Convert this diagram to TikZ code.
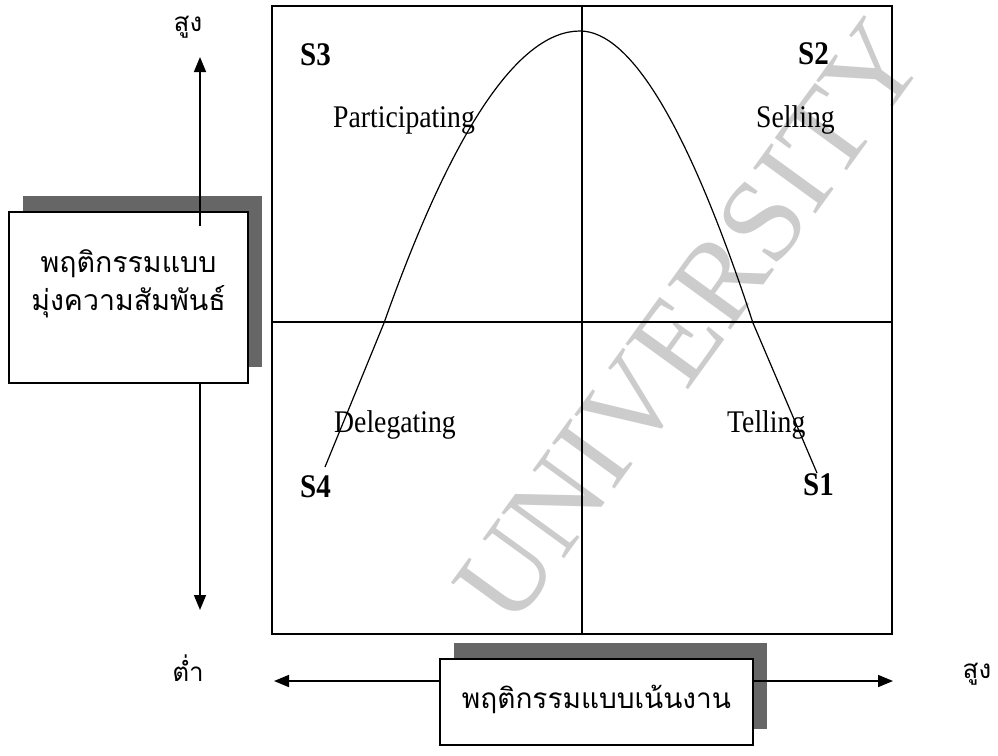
\documentclass[tikz,border=0pt]{standalone}
\usepackage{fontspec}
\setmainfont{Liberation Serif}
\newfontfamily\thaifont[Script=Thai]{Loma}
\newfontfamily\labelfont[FakeStretch=0.88]{Liberation Serif}
\usetikzlibrary{arrows.meta,shadows}

\tikzset{
    axisarrow/.style={line width=1.6pt, -{Triangle[length=15pt,width=12pt]}},
    shadowbox/.style={draw, line width=1.5pt, fill=white, inner sep=0pt,
        general shadow={fill=black!60, shadow xshift=14pt, shadow yshift=16pt}},
    stylelabel/.style={anchor=base west, inner sep=0pt, font=\labelfont\fontsize{31.5}{34}\selectfont},
    quadlabel/.style={anchor=base west, inner sep=0pt, font=\labelfont\bfseries\fontsize{33}{36}\selectfont},
    levellabel/.style={inner sep=0pt, font=\thaifont\fontsize{26}{30}\selectfont},
}

\begin{document}
\begin{tikzpicture}[x=1pt, y=-1pt]
    % --- พื้นที่ภาพ ---
    \useasboundingbox (0,0) rectangle (998,755);

    % --- ลายน้ำ ---
    \node[rotate=54, text=black!20, inner sep=0pt, font=\fontsize{118}{118}\selectfont] (mark) at (690,322) {UNIVERSITY};

    % --- กรอบหลักและเส้นแบ่ง ---
    \node[draw, line width=1.6pt, minimum width=620pt, minimum height=628pt, inner sep=0pt] (grid) at (582,320) {};
    \coordinate (mid) at (582,322);
    \draw[line width=1.2pt] (grid.north) -- (grid.south);
    \draw[line width=1.2pt] (grid.west |- mid) -- (grid.east |- mid);

    % --- เส้นโค้งรูประฆัง S4 -> S3 -> S2 -> S1 ---
    \draw[line width=1.2pt] (325,467) -- (384,323)
        .. controls (453,128) and (519,31) .. (580,31)
        .. controls (631,31) and (689,128) .. (753,323) -- (817,473);

    % --- ชื่อแบบภาวะผู้นำ ---
    \node[quadlabel] (s3) at (300,65) {S3};
    \node[quadlabel] (s2) at (798,64) {S2};
    \node[quadlabel] (s4) at (300,497) {S4};
    \node[quadlabel] (s1) at (803,495) {S1};
    \node[stylelabel] (part) at (333,127) {Participating};
    \node[stylelabel] (sell) at (756,127) {Selling};
    \node[stylelabel] (dele) at (334,432) {Delegating};
    \node[stylelabel] (tell) at (727,432) {Telling};

    % --- กล่องแกนตั้ง ---
    \node[shadowbox, minimum width=239pt, minimum height=171pt] (lbox) at (128.5,297.5) {};
    \node[align=center, inner sep=0pt, font=\thaifont\fontsize{28.5}{38}\selectfont] (ltext) at ([yshift=14pt]lbox.center) {พฤติกรรมแบบ\\มุ่งความสัมพันธ์};

    % --- กล่องแกนนอน ---
    \node[shadowbox, minimum width=313pt, minimum height=86pt] (bbox) at (596.5,702) {};
    \node[inner sep=0pt, font=\thaifont\fontsize{28}{32}\selectfont] (btext) at ([yshift=3pt]bbox.center) {พฤติกรรมแบบเน้นงาน};

    % --- ลูกศรแกน ---
    \coordinate (vhi) at (200,57);
    \coordinate (vlo) at (200,610);
    \coordinate (hlo) at (274,681);
    \coordinate (hhi) at (893,681);
    \draw[axisarrow] ([yshift=-15pt]lbox.north -| vhi) -- (vhi);
    \draw[axisarrow] (lbox.south -| vlo) -- (vlo);
    \draw[axisarrow] (bbox.west |- hlo) -- (hlo);
    \draw[axisarrow] (bbox.east |- hhi) -- (hhi);

    % --- ระดับสูง/ต่ำ ---
    \node[levellabel] (vhigh) at (188,27) {สูง};
    \node[levellabel] (low) at (188,668) {ต่ำ};
    \node[levellabel] (hhigh) at (977,674) {สูง};
\end{tikzpicture}
\end{document}
